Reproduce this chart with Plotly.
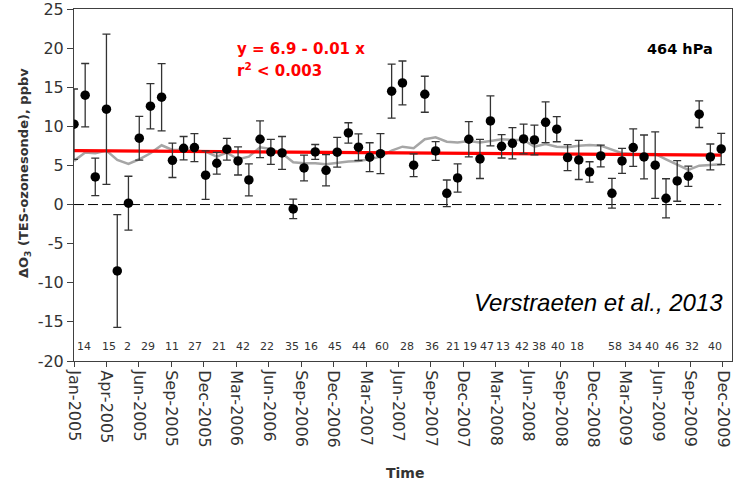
import pandas as pd
import plotly.graph_objects as go

# ---------------- data ----------------
start_month = "2005-01-01"
n_months = 60

delta_o3 = [10.27, 13.98, 3.53, 12.19, -8.49, 0.17, 8.48, 12.57, 13.72, 5.66,
            7.20, 7.28, 3.75, 5.28, 7.07, 5.58, 3.15, 8.35, 6.73, 6.60,
            -0.56, 4.68, 6.73, 4.38, 6.69, 9.16, 7.33, 6.05, 6.51, 14.49,
            15.55, 5.03, 14.10, 6.85, 1.44, 3.40, 8.35, 5.83, 10.69, 7.45,
            7.83, 8.39, 8.26, 10.52, 9.63, 6.00, 5.70, 4.17, 6.21, 1.44,
            5.58, 7.28, 6.09, 5.03, 0.80, 3.02, 3.62, 11.55, 6.09, 7.11]

delta_err = [4.5, 4.05, 2.4, 9.6, 7.2, 3.45, 2.8, 2.9, 4.3, 2.2,
             1.5, 1.8, 3.1, 1.4, 1.4, 1.8, 2.05, 2.35, 1.6, 2.1,
             1.25, 1.65, 0.95, 2.0, 1.9, 1.3, 1.7, 1.85, 2.55, 3.45,
             2.8, 1.45, 2.3, 1.2, 1.7, 1.8, 2.25, 2.5, 3.2, 1.5,
             2.0, 1.9, 1.9, 2.6, 1.6, 1.65, 2.5, 1.3, 1.4, 1.9,
             1.6, 2.4, 2.8, 4.25, 2.5, 2.6, 1.3, 1.7, 1.65, 2.0]

running_mean = [5.58, 6.64, 6.56, 6.90, 5.70, 5.19, 5.79, 6.56, 7.58, 6.98,
                6.98, 6.90, 6.77, 6.13, 6.64, 5.79, 6.13, 7.33, 7.11, 6.56,
                5.41, 5.28, 5.28, 5.15, 5.36, 5.49, 5.58, 5.79, 6.13, 6.90,
                7.40, 7.20, 8.35, 8.60, 8.04, 7.92, 8.13, 7.92, 8.13, 8.35,
                8.26, 8.26, 7.40, 7.75, 7.40, 7.33, 7.53, 7.62, 7.53, 7.07,
                6.56, 6.47, 6.47, 6.47, 5.79, 5.06, 4.42, 4.97, 5.06, 5.15]

trend_intercept = 6.9
trend_slope = -0.01   # per month

sonde_counts = [14, 15, 2, 29, 11, 27, 21, 42, 22, 35, 16, 45, 44, 60, 28,
                36, 21, 19, 47, 13, 42, 38, 40, 18, 58, 34, 40, 46, 32, 40]
count_month = [0.9, 3.2, 4.9, 6.7, 8.9, 11.0, 13.2, 15.4, 17.6, 19.9,
               21.6, 23.8, 26.0, 28.1, 30.3, 32.6, 34.5, 36.1, 37.6, 39.1,
               40.8, 42.4, 44.1, 45.8, 49.3, 51.1, 52.7, 54.5, 56.3, 58.4]

y_ticks = [-20, -15, -10, -5, 0, 5, 10, 15, 20, 25]
x_tick_step_days = 90
x_range = ["2005-01-01", "2009-12-31"]

# ---------------- build ----------------
dates = pd.date_range(start_month, periods=n_months, freq="MS")
month_idx = list(range(n_months))
trend = [trend_intercept + trend_slope * m for m in month_idx]
x_ticks = pd.date_range(start_month, "2009-12-10", freq=f"{x_tick_step_days}D")
count_dates = [pd.Timestamp(start_month) + pd.to_timedelta(m * 30.44, unit="D")
               for m in count_month]

FONT = "DejaVu Sans, Verdana, sans-serif"
AX = "#404040"

fig = go.Figure()

fig.add_trace(go.Scatter(x=[dates[0], dates[-1]], y=[0, 0], mode="lines",
                         line=dict(color="black", width=1, dash="10px,4px"),
                         hoverinfo="skip", showlegend=False))
fig.add_trace(go.Scatter(x=dates, y=running_mean, mode="lines",
                         line=dict(color="#a6a6a6", width=2.5),
                         showlegend=False))
fig.add_trace(go.Scatter(x=dates, y=trend, mode="lines",
                         line=dict(color="#ff0000", width=3.2),
                         showlegend=False))
fig.add_trace(go.Scatter(x=dates, y=delta_o3, mode="markers",
                         marker=dict(color="black", size=9.5),
                         error_y=dict(type="data", array=delta_err, visible=True,
                                      color="#333333", thickness=1.3, width=4),
                         showlegend=False))

annotations = []
for c, d in zip(sonde_counts, count_dates):
    annotations.append(dict(x=d, y=-18.1, xref="x", yref="y", text=str(c),
                            showarrow=False, xanchor="center", yanchor="middle",
                            font=dict(family=FONT, size=11, color="#333333")))

annotations += [
    dict(x=0.2447, y=0.886, xref="paper", yref="paper", xanchor="left", yanchor="middle",
         text="<b>y = 6.9 - 0.01 x</b>", showarrow=False,
         font=dict(family=FONT, size=15, color="#ff0000")),
    dict(x=0.2447, y=0.826, xref="paper", yref="paper", xanchor="left", yanchor="middle",
         text="<b>r<sup>2</sup> &lt; 0.003</b>", showarrow=False,
         font=dict(family=FONT, size=15, color="#ff0000")),
    dict(x=0.974, y=0.886, xref="paper", yref="paper", xanchor="right", yanchor="middle",
         text="<b>464 hPa</b>", showarrow=False,
         font=dict(family=FONT, size=14.5, color="black")),
    dict(x=0.989, y=0.165, xref="paper", yref="paper", xanchor="right", yanchor="middle",
         text="<i>Verstraeten et al., 2013</i>", showarrow=False,
         font=dict(family="Liberation Sans, Arial, sans-serif", size=24, color="black")),
    dict(x=-0.076, y=0.534, xref="paper", yref="paper", xanchor="center", yanchor="middle",
         text="<b>ΔO<sub>3</sub> (TES-ozonesonde), ppbv</b>", showarrow=False, textangle=-90,
         font=dict(family=FONT, size=13, color="#333333")),
    dict(x=0.503, y=-0.318, xref="paper", yref="paper", xanchor="center", yanchor="middle",
         text="<b>Time</b>", showarrow=False,
         font=dict(family=FONT, size=14, color="#333333")),
]

fig.update_layout(
    width=733, height=486,
    margin=dict(l=74, r=1, t=9, b=125),
    paper_bgcolor="white", plot_bgcolor="white",
    showlegend=False,
    annotations=annotations,
    font=dict(family=FONT, color="#333333"),
)
fig.update_xaxes(
    type="date", range=x_range,
    tickmode="array", tickvals=list(x_ticks), tickformat="%b-%Y",
    tickangle=90, tickfont=dict(family=FONT, size=16, color="#333333"),
    ticks="outside", ticklen=5, tickcolor=AX, ticklabeloverflow="allow",
    showline=True, linecolor=AX, linewidth=1, mirror=True,
    showgrid=False, zeroline=False,
)
fig.update_yaxes(
    range=[-20, 25], tickmode="array", tickvals=y_ticks,
    ticktext=[str(v) for v in y_ticks],
    tickfont=dict(family=FONT, size=16, color="#333333"),
    ticks="outside", ticklen=6, tickcolor=AX, ticklabeloverflow="allow",
    showline=True, linecolor=AX, linewidth=1, mirror=True,
    showgrid=False, zeroline=False,
)

fig.write_html("out.html", config={"displayModeBar": False},
               post_script="document.body.style.margin='0';document.body.style.overflow='hidden';")
